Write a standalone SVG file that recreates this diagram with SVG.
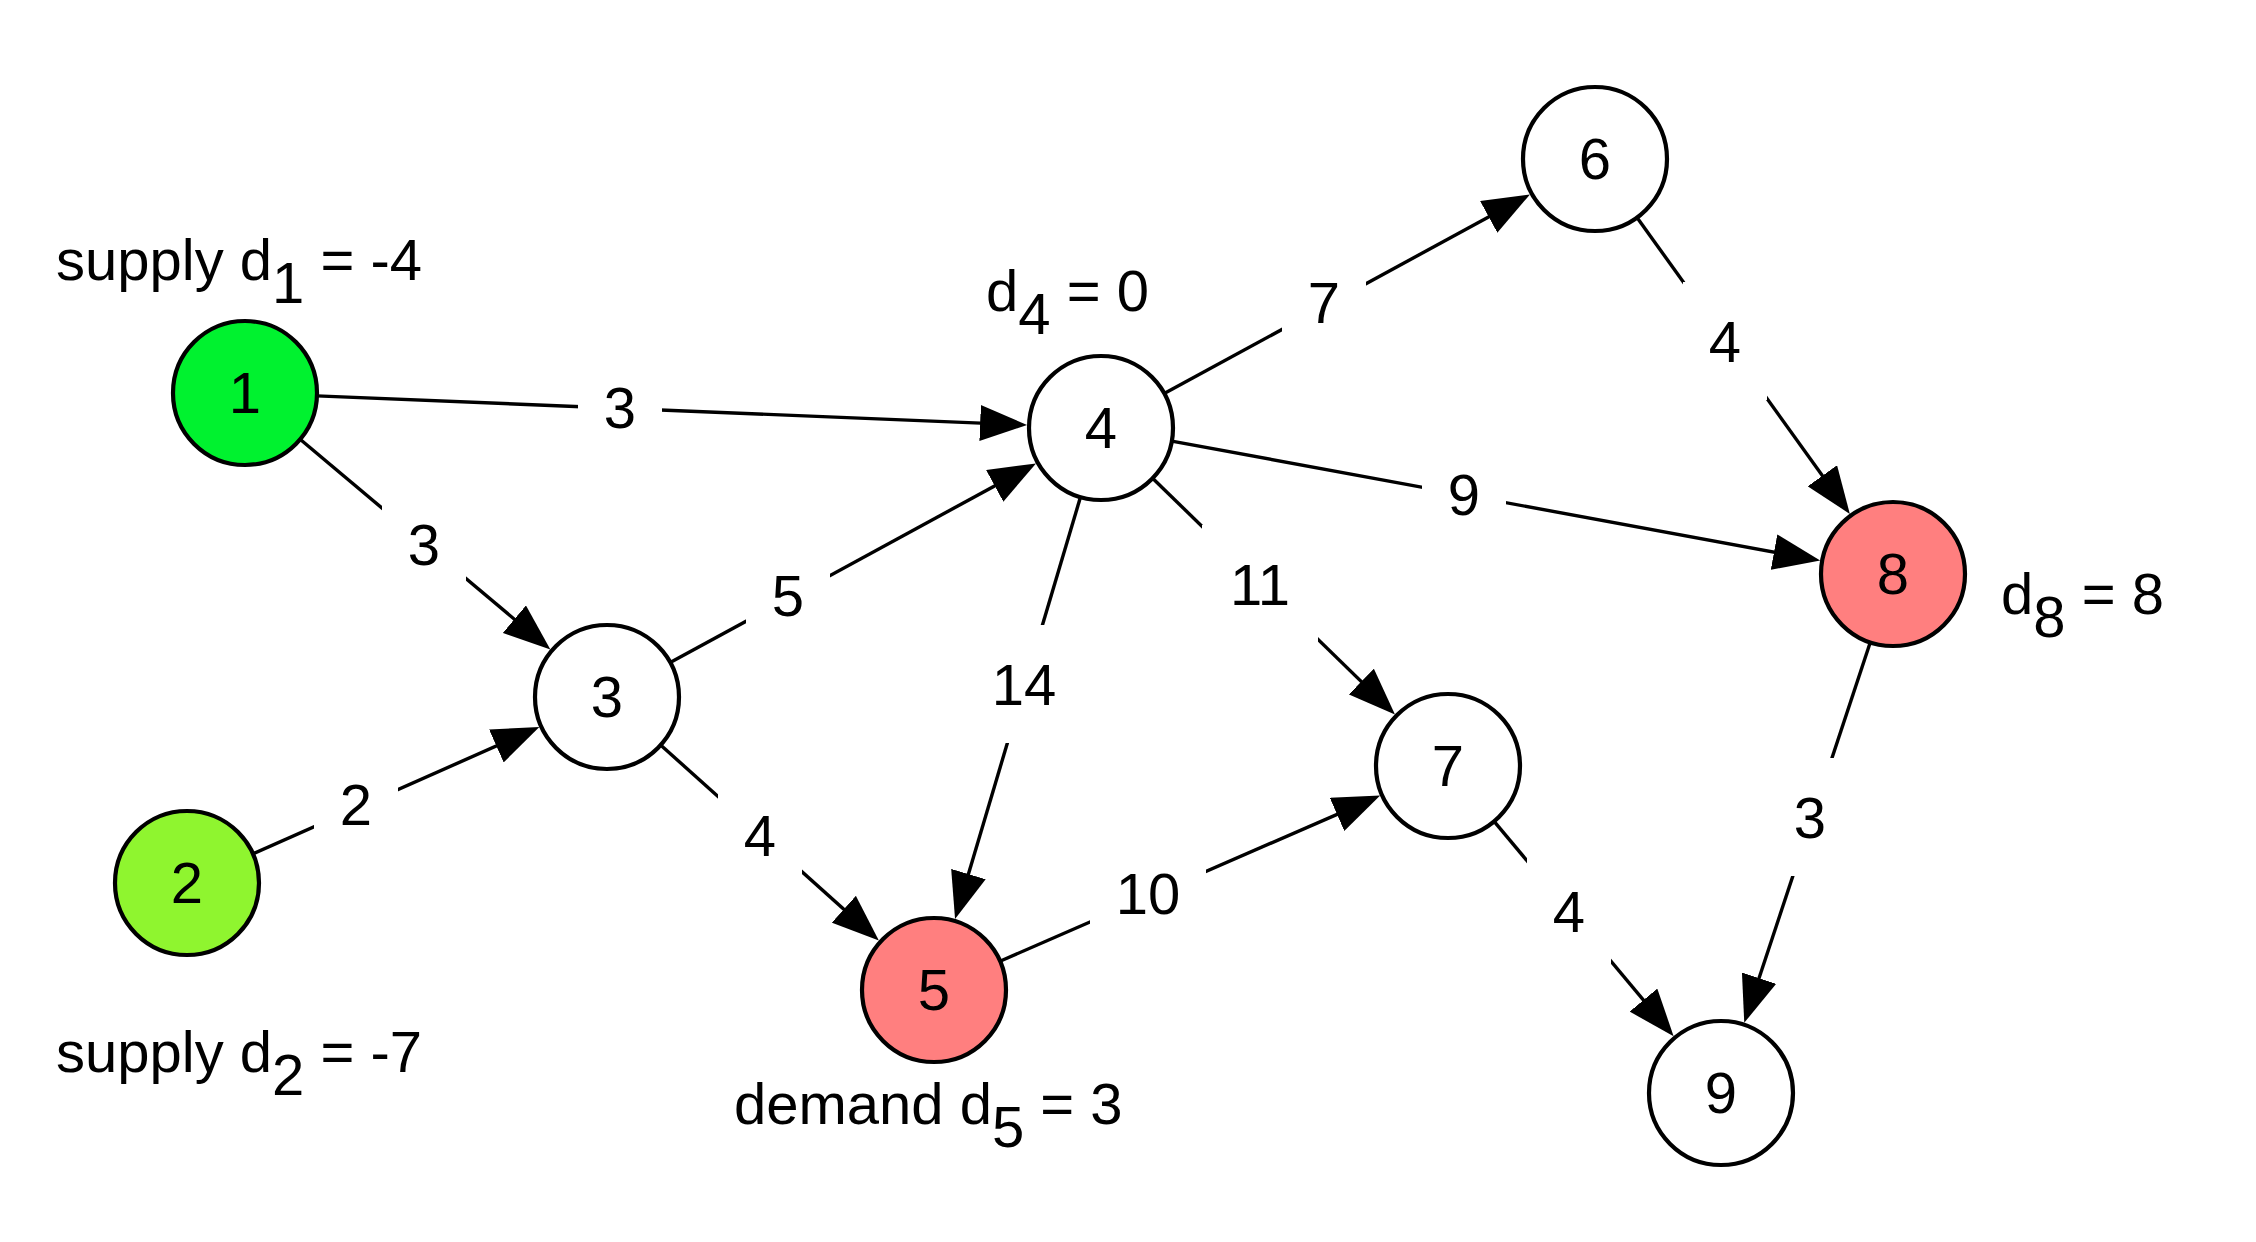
<svg xmlns="http://www.w3.org/2000/svg" width="2256" height="1242" viewBox="0 0 2256 1242">
<style>
text { font-family: "Liberation Sans", Arial, sans-serif; font-size: 58px; fill: #000; }
.node circle { stroke: #000; stroke-width: 4.2; }
.edge { stroke: #000; stroke-width: 3.4; fill: none; marker-end: url(#arrow); }
.lblbg { fill: #fff; }
.c { text-anchor: middle; }
</style>
<defs>
<marker id="arrow" markerUnits="userSpaceOnUse" markerWidth="47" markerHeight="36" refX="37" refY="18" orient="auto" viewBox="0 0 47 36">
<path d="M0,0 L47,18 L0,36 z" fill="#000"/>
</marker>
</defs>
<rect width="2256" height="1242" fill="#fff"/>
<g id="connectors">
<line class="edge" x1="316.9" y1="395.9" x2="1017.1" y2="424.6"/>
<line class="edge" x1="300.1" y1="439.3" x2="542.7" y2="643.0"/>
<line class="edge" x1="252.8" y1="853.8" x2="530.2" y2="731.0"/>
<line class="edge" x1="670.2" y1="662.6" x2="1027.2" y2="468.2"/>
<line class="edge" x1="660.6" y1="745.0" x2="871.4" y2="933.9"/>
<line class="edge" x1="1164.2" y1="393.6" x2="1521.2" y2="199.2"/>
<line class="edge" x1="1171.8" y1="441.1" x2="1810.4" y2="558.8"/>
<line class="edge" x1="1152.6" y1="478.2" x2="1387.8" y2="707.4"/>
<line class="edge" x1="1080.5" y1="497.0" x2="957.9" y2="909.5"/>
<line class="edge" x1="1000.0" y1="961.2" x2="1371.0" y2="799.6"/>
<line class="edge" x1="1637.0" y1="217.5" x2="1844.0" y2="505.8"/>
<line class="edge" x1="1870.3" y1="642.3" x2="1747.4" y2="1013.3"/>
<line class="edge" x1="1494.1" y1="821.3" x2="1667.2" y2="1028.5"/>
</g>
<g id="edge-labels">
<rect class="lblbg" x="578" y="348" width="84" height="118"/><text class="c" x="620" y="428">3</text>
<rect class="lblbg" x="382" y="485" width="84" height="118"/><text class="c" x="424" y="565">3</text>
<rect class="lblbg" x="314" y="745" width="84" height="118"/><text class="c" x="356" y="825">2</text>
<rect class="lblbg" x="746" y="536" width="84" height="118"/><text class="c" x="788" y="616">5</text>
<rect class="lblbg" x="718" y="776" width="84" height="118"/><text class="c" x="760" y="856">4</text>
<rect class="lblbg" x="1282" y="243" width="84" height="118"/><text class="c" x="1324" y="323">7</text>
<rect class="lblbg" x="1422" y="435" width="84" height="118"/><text class="c" x="1464" y="515">9</text>
<rect class="lblbg" x="1202" y="525" width="116" height="118"/><text class="c" x="1260" y="605">11</text>
<rect class="lblbg" x="966" y="625" width="116" height="118"/><text class="c" x="1024" y="705">14</text>
<rect class="lblbg" x="1090" y="834" width="116" height="118"/><text class="c" x="1148" y="914">10</text>
<rect class="lblbg" x="1683" y="282" width="84" height="118"/><text class="c" x="1725" y="362">4</text>
<rect class="lblbg" x="1768" y="758" width="84" height="118"/><text class="c" x="1810" y="838">3</text>
<rect class="lblbg" x="1527" y="852" width="84" height="118"/><text class="c" x="1569" y="932">4</text>
</g>
<g id="node1" class="node"><circle cx="245" cy="393" r="72" fill="#00f22f"/><text class="c" x="245" y="413">1</text></g>
<g id="node2" class="node"><circle cx="187" cy="883" r="72" fill="#8ff52f"/><text class="c" x="187" y="903">2</text></g>
<g id="node3" class="node"><circle cx="607" cy="697" r="72" fill="#fff"/><text class="c" x="607" y="717">3</text></g>
<g id="node4" class="node"><circle cx="1101" cy="428" r="72" fill="#fff"/><text class="c" x="1101" y="448">4</text></g>
<g id="node5" class="node"><circle cx="934" cy="990" r="72" fill="#ff7f7f"/><text class="c" x="934" y="1010">5</text></g>
<g id="node6" class="node"><circle cx="1595" cy="159" r="72" fill="#fff"/><text class="c" x="1595" y="179">6</text></g>
<g id="node7" class="node"><circle cx="1448" cy="766" r="72" fill="#fff"/><text class="c" x="1448" y="786">7</text></g>
<g id="node8" class="node"><circle cx="1893" cy="574" r="72" fill="#ff7f7f"/><text class="c" x="1893" y="594">8</text></g>
<g id="node9" class="node"><circle cx="1721" cy="1093" r="72" fill="#fff"/><text class="c" x="1721" y="1113">9</text></g>
<g id="annotations">
<text x="56" y="280">supply d<tspan dy="23">1</tspan><tspan dy="-23"> = -4</tspan></text>
<text x="56" y="1072">supply d<tspan dy="23">2</tspan><tspan dy="-23"> = -7</tspan></text>
<text x="986" y="311">d<tspan dy="23">4</tspan><tspan dy="-23"> = 0</tspan></text>
<text x="734" y="1124">demand d<tspan dy="23">5</tspan><tspan dy="-23"> = 3</tspan></text>
<text x="2001" y="614">d<tspan dy="23">8</tspan><tspan dy="-23"> = 8</tspan></text>
</g>
</svg>
